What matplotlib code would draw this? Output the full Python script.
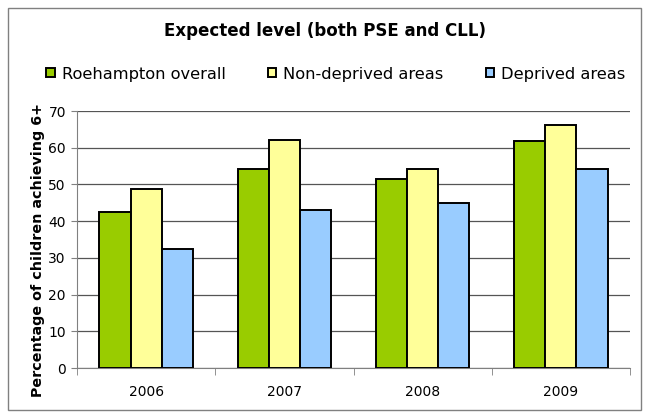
import numpy as np
import matplotlib.pyplot as plt
from matplotlib.patches import Rectangle

plt.rcParams['font.family'] = ['DejaVu Sans']

years = ['2006', '2007', '2008', '2009']
roehampton = [42.5, 54.3, 51.4, 61.8]
non_deprived = [48.8, 62.1, 54.2, 66.2]
deprived = [32.4, 43.0, 45.0, 54.2]

series = [
    ('Roehampton overall', roehampton, '#99cc00'),
    ('Non-deprived areas', non_deprived, '#ffff99'),
    ('Deprived areas', deprived, '#99ccff'),
]

fig = plt.figure(figsize=(6.5, 4.19), dpi=100)
ax = fig.add_axes([77/650, 51/419, 553/650, 257/419])

x = np.arange(len(years))
w = 0.225
for i, (name, vals, col) in enumerate(series):
    ax.bar(x + (i - 1) * w, vals, w, color=col, edgecolor='black',
           linewidth=1.4, label=name, zorder=3)

ax.set_xlim(-0.5, 3.5)
ax.set_ylim(0, 70)
ax.set_yticks(range(0, 71, 10))
ax.set_xticks(x)
ax.set_xticklabels(years, fontsize=10)
ax.set_xticks([-0.5, 0.5, 1.5, 2.5, 3.5], minor=True)
ax.tick_params(axis='x', which='major', length=0, pad=12)
ax.tick_params(axis='x', which='minor', length=5, color='#808080')
ax.tick_params(axis='y', labelsize=10, length=4, color='#808080', pad=4)
ax.grid(axis='y', color='#555555', linewidth=0.9, zorder=0)
for s in ['top', 'right']:
    ax.spines[s].set_visible(False)
ax.spines['left'].set_color('#808080')
ax.spines['bottom'].set_color('#808080')

ax.set_ylabel('Percentage of children achieving 6+', fontsize=10.3,
              fontweight='bold')
ax.yaxis.set_label_coords(-0.058, 0.46)

fig.text(0.5, 1 - 31/419, 'Expected level (both PSE and CLL)',
         ha='center', va='center', fontsize=12, fontweight='bold')

fig.legend(loc='center', bbox_to_anchor=(0.517, 1 - 74/419), ncol=3,
           frameon=False, fontsize=11.7, handlelength=0.5, handleheight=0.5,
           handletextpad=0.45, columnspacing=2.6)

fig.patches.append(Rectangle((8/650, 1 - 410/419), 633/650, 402/419,
                             transform=fig.transFigure, fill=False,
                             edgecolor='#808080', linewidth=1))

fig.savefig('out.png', dpi=100)
